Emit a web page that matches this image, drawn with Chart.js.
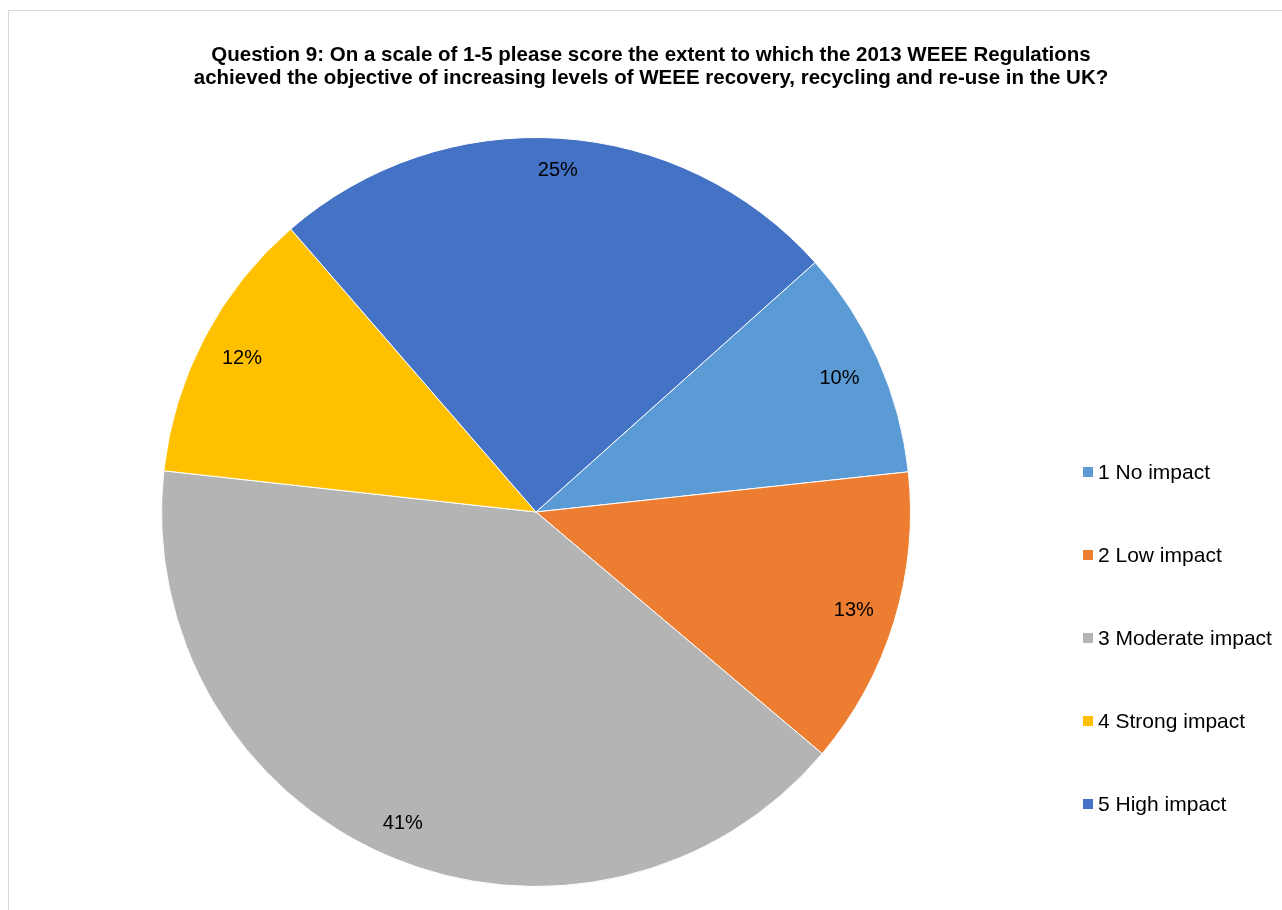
<!DOCTYPE html>
<html>
<head>
<meta charset="utf-8">
<script src="https://cdn.jsdelivr.net/npm/chart.js@4"></script>
<style>
  html, body { margin: 0; padding: 0; background: #fff; }
  #wrap { width: 1282px; height: 910px; position: relative; }
</style>
</head>
<body>
<div id="wrap"><canvas id="grafico"></canvas></div>
<script>
// datos de la pregunta 9
const categorias = ['1 No impact', '2 Low impact', '3 Moderate impact', '4 Strong impact', '5 High impact'];
const porcentajes = [10, 13, 41, 12, 25];
const colores = ['#5B9BD5', '#ED7D31', '#B4B4B4', '#FFC000', '#4472C4'];
const titulo = [
    'Question 9: On a scale of 1-5 please score the extent to which the 2013 WEEE Regulations',
    'achieved the objective of increasing levels of WEEE recovery, recycling and re-use in the UK?'
];

const FUENTE = '"Liberation Sans", Arial, sans-serif';

// marco gris, titulo y leyenda
const marco = {
    id: 'marco',
    beforeDraw(chart) {
        const ctx = chart.ctx;
        ctx.save();
        ctx.strokeStyle = '#D9D9D9';
        ctx.lineWidth = 1;
        ctx.strokeRect(8.5, 10.5, 1400, 1000);
        ctx.restore();
    },
    afterDraw(chart) {
        const ctx = chart.ctx;
        ctx.save();
        ctx.fillStyle = '#000';
        ctx.font = 'bold 20.5px ' + FUENTE;
        ctx.textAlign = 'center';
        ctx.textBaseline = 'middle';
        titulo.forEach((linea, i) => ctx.fillText(linea, 651, 55 + i * 23.5));

        // leyenda a la derecha
        ctx.font = '21px ' + FUENTE;
        ctx.textAlign = 'left';
        chart.data.labels.forEach((lab, i) => {
            const y = 472 + i * 83;
            ctx.fillStyle = chart.data.datasets[0].backgroundColor[i];
            ctx.fillRect(1083, y - 5, 10, 10);
            ctx.fillStyle = '#000';
            ctx.fillText(lab, 1098, y + 1);
        });
        ctx.restore();
    }
};

// etiquetas de porcentaje dentro del borde de cada sector
const etiquetas = {
    id: 'etiquetas',
    afterDatasetsDraw(chart) {
        const ctx = chart.ctx;
        const meta = chart.getDatasetMeta(0);
        ctx.save();
        ctx.font = '20px ' + FUENTE;
        ctx.fillStyle = '#000';
        ctx.textAlign = 'center';
        ctx.textBaseline = 'middle';
        meta.data.forEach((arco, i) => {
            const p = arco.getProps(['x', 'y', 'startAngle', 'endAngle', 'outerRadius'], true);
            const medio = (p.startAngle + p.endAngle) / 2;
            const texto = chart.data.datasets[0].data[i] + '%';
            const w = ctx.measureText(texto).width;
            const h = 20;
            const c = Math.cos(medio), s = Math.sin(medio);
            const ext = Math.abs(c) * w / 2 + Math.abs(s) * h / 2;
            const r = p.outerRadius - 20 - ext;
            ctx.fillText(texto, p.x + c * r, p.y + s * r + 1);
        });
        ctx.restore();
    }
};

new Chart(document.getElementById('grafico'), {
    type: 'pie',
    data: {
        labels: categorias,
        datasets: [{
            data: porcentajes,
            backgroundColor: colores,
            borderColor: '#FFFFFF',
            borderWidth: 1
        }]
    },
    options: {
        responsive: true,
        maintainAspectRatio: false,
        animation: false,
        rotation: 48.2,
        layout: { padding: { top: 137, bottom: 23, left: 0, right: 210 } },
        plugins: {
            legend: { display: false },
            title: { display: false },
            tooltip: { enabled: false }
        }
    },
    plugins: [marco, etiquetas]
});
</script>
</body>
</html>
